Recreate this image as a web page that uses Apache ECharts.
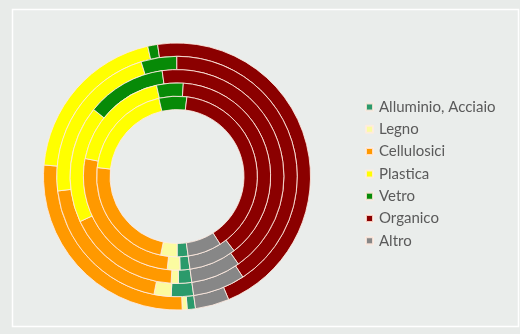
<!DOCTYPE html>
<html>
<head>
<meta charset="utf-8">
<script src="https://cdn.jsdelivr.net/npm/echarts@6/dist/echarts.min.js"></script>
<style>
html,body{margin:0;padding:0;background:#e8ebe9;}
#chart{width:520px;height:334px;}
</style>
</head>
<body>
<div id="chart"></div>
<script>
// Categories (legend order, clockwise in each ring)
const categories = ['Alluminio, Acciaio', 'Legno', 'Cellulosici', 'Plastica', 'Vetro', 'Organico', 'Altro'];
// Percent shares per ring, outer to inner
const ring1 = [1.0, 0.6, 27.0, 20.1, 1.2, 46.0, 4.1];
const ring2 = [3.0, 2.3, 20.0, 22.1, 4.8, 40.8, 7.0];
const ring3 = [2.0, 1.1, 17.2, 17.7, 12.0, 42.5, 7.5];
const ring4 = [1.7, 2.2, 26.4, 18.4, 4.6, 38.5, 8.2];
const ring5 = [2.2, 3.3, 23.5, 19.6, 5.6, 39.0, 6.8];
const rings = [ring1, ring2, ring3, ring4, ring5];

const colors = ['#2b9a6b', '#fbfba0', '#ff9900', '#ffff00', '#078a07', '#8b0000', '#878787'];

const chart = echarts.init(document.getElementById('chart'), null, {renderer: 'canvas'});
const cx = 177, cy = 176.5, rOuter = 133.5, rInner = 67;
const w = (rOuter - rInner) / rings.length;

const series = rings.map((vals, i) => ({
  type: 'pie',
  name: 'Anello ' + (i + 1),
  center: [cx, cy],
  radius: [rOuter - (i + 1) * w, rOuter - i * w],
  startAngle: -82,
  clockwise: true,
  label: {show: false},
  labelLine: {show: false},
  emphasis: {disabled: true},
  itemStyle: {borderColor: 'rgba(255,235,225,0.85)', borderWidth: 1},
  data: categories.map((c, k) => ({name: c, value: vals[k]}))
}));

chart.setOption({
  animation: false,
  backgroundColor: '#e8ebe9',
  color: colors,
  graphic: [{
    type: 'rect',
    shape: {x: 12.5, y: 9.5, width: 506, height: 317},
    style: {fill: '#eaedeb', stroke: '#ffffff', lineWidth: 1.5},
    z: -10
  }],
  legend: {
    orient: 'vertical',
    left: 365,
    top: 99.5,
    padding: 0,
    icon: 'rect',
    itemWidth: 7,
    itemHeight: 7,
    itemGap: 7.3,
    selectedMode: false,
    data: categories,
    textStyle: {fontSize: 15, color: '#5a5a5a', fontFamily: 'Lato', lineHeight: 15, padding: [0, 0, 0, 1]}
  },
  series: series
});
</script>
</body>
</html>
